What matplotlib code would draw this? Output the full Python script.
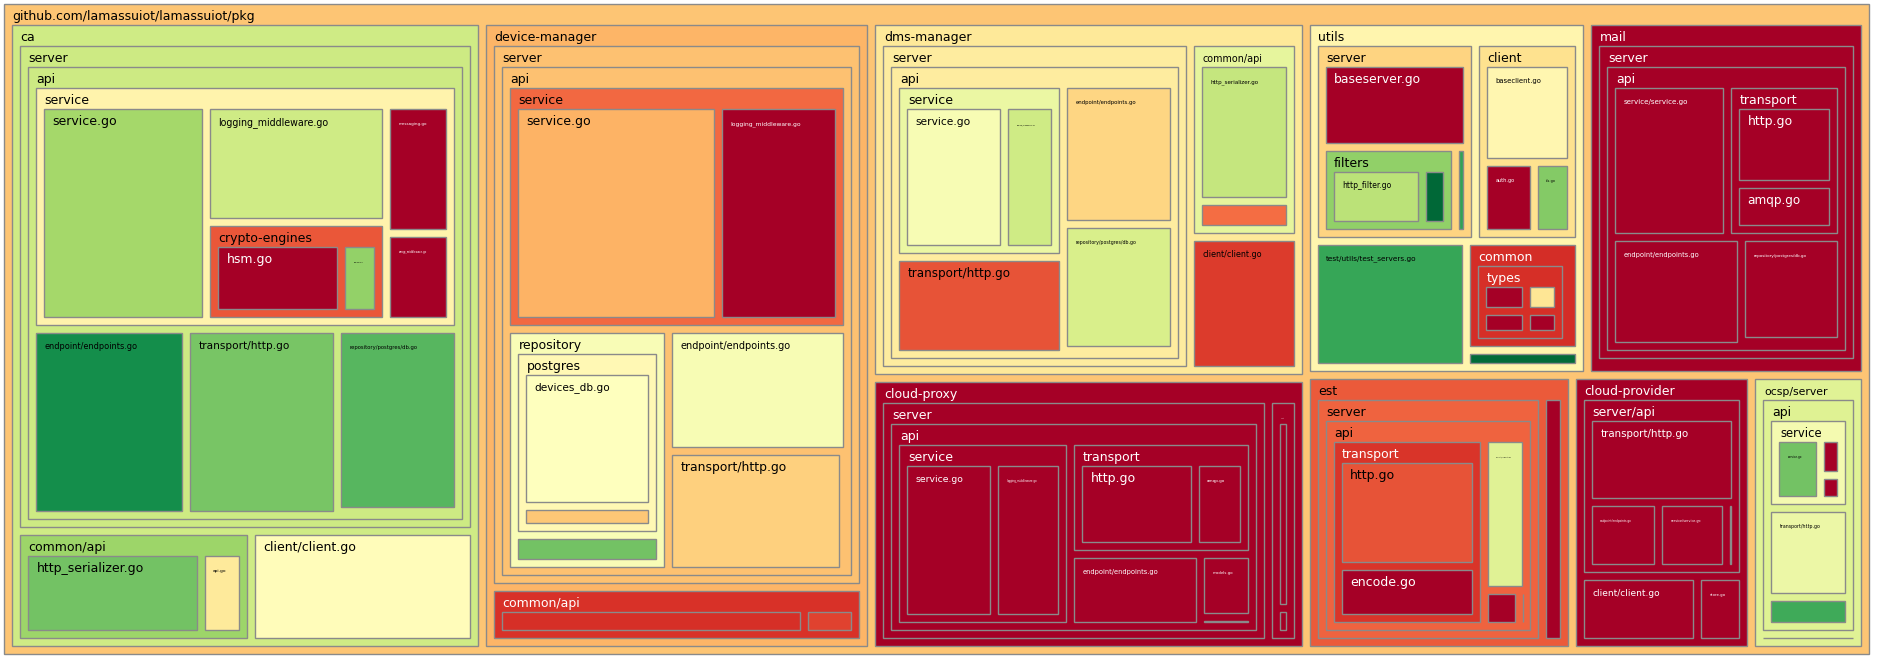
import matplotlib
matplotlib.use("Agg")
import matplotlib.pyplot as plt
from matplotlib.patches import Rectangle
from matplotlib.textpath import TextPath
from matplotlib.font_manager import FontProperties

root_name = "github.com/lamassuiot/lamassuiot/pkg"

# go files below pkg: levels split by "|", number of statements, coverage (0..1)
files = [
    # ca
    "ca|server|api|service|service.go",
    "ca|server|api|service|logging_middleware.go",
    "ca|server|api|service|crypto-engines|hsm.go",
    "ca|server|api|service|crypto-engines|gopem.go",
    "ca|server|api|service|messaging.go",
    "ca|server|api|service|amqp_middleware.go",
    "ca|server|api|endpoint/endpoints.go",
    "ca|server|api|transport/http.go",
    "ca|server|api|repository/postgres/db.go",
    "ca|server|api|errors.go",
    "ca|common/api|http_serializer.go",
    "ca|common/api|api.go",
    "ca|client/client.go",
    # device-manager
    "device-manager|server|api|service|service.go",
    "device-manager|server|api|service|logging_middleware.go",
    "device-manager|server|api|repository|postgres|devices_db.go",
    "device-manager|server|api|repository|postgres|logs_db.go",
    "device-manager|server|api|repository|interfaces.go",
    "device-manager|server|api|endpoint/endpoints.go",
    "device-manager|server|api|transport/http.go",
    "device-manager|server|api|errors.go",
    "device-manager|common/api|http_serializer.go",
    "device-manager|common/api|api.go",
    # dms-manager
    "dms-manager|server|api|service|service.go",
    "dms-manager|server|api|service|logging_middleware.go",
    "dms-manager|server|api|transport/http.go",
    "dms-manager|server|api|endpoint/endpoints.go",
    "dms-manager|server|api|repository/postgres/db.go",
    "dms-manager|server|api|errors.go",
    "dms-manager|common/api|http_serializer.go",
    "dms-manager|common/api|api.go",
    "dms-manager|client/client.go",
    # cloud-proxy
    "cloud-proxy|server|api|service|service.go",
    "cloud-proxy|server|api|service|logging_middleware.go",
    "cloud-proxy|server|api|transport|http.go",
    "cloud-proxy|server|api|transport|amqp.go",
    "cloud-proxy|server|api|endpoint/endpoints.go",
    "cloud-proxy|server|api|models.go",
    "cloud-proxy|server|api|errors.go",
    "cloud-proxy|client|client.go",
    "cloud-proxy|client|utils.go",
    # utils
    "utils|server|baseserver.go",
    "utils|server|filters|http_filter.go",
    "utils|server|filters|filter.go",
    "utils|server|utils.go",
    "utils|client|baseclient.go",
    "utils|client|auth.go",
    "utils|client|tls.go",
    "utils|test/utils/test_servers.go",
    "utils|common|types|certificate.go",
    "utils|common|types|status.go",
    "utils|common|types|key.go",
    "utils|common|types|types.go",
    "utils|common|errors.go",
    "utils|ocsp.go",
    # mail
    "mail|server|api|service/service.go",
    "mail|server|api|transport|http.go",
    "mail|server|api|transport|amqp.go",
    "mail|server|api|endpoint/endpoints.go",
    "mail|server|api|repository/postgres/db.go",
    "mail|server|api|errors.go",
    "mail|config.go",
    # est
    "est|server|api|transport|http.go",
    "est|server|api|transport|encode.go",
    "est|server|api|endpoint/endpoints.go",
    "est|server|api|service/service.go",
    "est|server|api|errors.go",
    "est|client/client.go",
    # cloud-provider
    "cloud-provider|server/api|transport/http.go",
    "cloud-provider|server/api|endpoint/endpoints.go",
    "cloud-provider|server/api|service/service.go",
    "cloud-provider|server/api|errors.go",
    "cloud-provider|client/client.go",
    "cloud-provider|store.go",
    # ocsp/server
    "ocsp/server|api|service|service.go",
    "ocsp/server|api|service|logging.go",
    "ocsp/server|api|service|utils.go",
    "ocsp/server|api|transport/http.go",
    "ocsp/server|api|endpoint/endpoints.go",
    "ocsp/server|errors.go",
]

statements = [
    224, 132, 86, 25, 51, 35, 152, 149, 116, 3, 91, 22, 107,
    280, 167, 158, 25, 27, 118, 112, 3, 77, 13,
    118, 60, 100, 95, 85, 3, 79, 16, 65,
    123, 92, 96, 41, 62, 22, 3, 29, 4,
    73, 54, 15, 6, 56, 23, 17, 89, 17, 14, 13, 10, 3, 9,
    114, 71, 41, 91, 67, 3, 6,
    142, 68, 47, 9, 2, 25,
    82, 30, 29, 4, 38, 15,
    36, 10, 7, 51, 17, 4,
]

coverage = [
    0.70, 0.62, 0.0, 0.73, 0.0, 0.0, 0.92, 0.77, 0.82, 0.5, 0.78, 0.43, 0.49,
    0.31, 0.0, 0.50, 0.35, 0.78, 0.52, 0.37, 0.5, 0.10, 0.13,
    0.52, 0.62, 0.16, 0.38, 0.60, 0.5, 0.64, 0.20, 0.12,
    0.0, 0.0, 0.0, 0.0, 0.0, 0.0, 0.0, 0.0, 0.0,
    0.0, 0.66, 1.0, 0.87, 0.47, 0.0, 0.75, 0.86, 0.0, 0.0, 0.42, 0.0, 0.0, 0.99,
    0.0, 0.0, 0.0, 0.0, 0.0, 0.0, 0.0,
    0.16, 0.0, 0.58, 0.0, 0.0, 0.0,
    0.0, 0.0, 0.0, 0.0, 0.0, 0.0,
    0.78, 0.0, 0.0, 0.55, 0.85, 0.5,
]

DPI = 100
PAD = 4        # px between a box and the edge of its cell
HEAD = 17      # px header strip of a directory box
MAX_EM = 12.5  # px
cmap = plt.get_cmap("RdYlGn")
font = FontProperties(family="DejaVu Sans")


def new_node(name):
    return {"name": name, "kids": {}, "size": 0.0, "hit": 0.0}


tree = new_node(root_name)
for path, n, cov in zip(files, statements, coverage):
    node = tree
    node["size"] += n
    node["hit"] += n * cov
    for part in path.split("|"):
        node = node["kids"].setdefault(part, new_node(part))
        node["size"] += n
        node["hit"] += n * cov


# squarified layout
def lay(areas, x, y, dx, dy):
    s = sum(areas)
    out = []
    if dx > dy:
        w = s / dy
        for a in areas:
            out.append((x, y, w, a / w))
            y += a / w
    else:
        h = s / dx
        for a in areas:
            out.append((x, y, a / h, h))
            x += a / h
    return out


def worst(areas, dx, dy):
    return max(max(w / h, h / w) for _, _, w, h in lay(areas, 0, 0, dx, dy))


def leftover(areas, x, y, dx, dy):
    s = sum(areas)
    if dx > dy:
        w = s / dy
        return x + w, y, dx - w, dy
    h = s / dx
    return x, y + h, dx, dy - h


def squarify(areas, x, y, dx, dy):
    if not areas:
        return []
    if len(areas) == 1:
        return lay(areas, x, y, dx, dy)
    i = 1
    while i < len(areas) and worst(areas[:i], dx, dy) >= worst(areas[:i + 1], dx, dy):
        i += 1
    return lay(areas[:i], x, y, dx, dy) + squarify(areas[i:], *leftover(areas[:i], x, y, dx, dy))


def text_em(s):
    return TextPath((0, 0), s, size=1, prop=font).get_extents().width


fig = plt.figure(figsize=(18.8, 6.61), dpi=DPI)
ax = fig.add_axes([0, 0, 1, 1])
ax.set_xlim(0, 1880)
ax.set_ylim(661, 0)
ax.axis("off")


def draw(node, x, y, w, h):
    cov = node["hit"] / node["size"]
    ax.add_patch(Rectangle((x, y), w, h, facecolor=cmap(cov),
                           edgecolor="#8a8a8a", linewidth=1.0))
    kids = sorted(node["kids"].values(), key=lambda k: -k["size"])
    room = 0.7 * (w - 16)
    if room > 0 and (kids or (w >= 25 and h >= 30)):
        em = min(MAX_EM, room / text_em(node["name"]))
        ax.text(x + 8.5, y + 16, node["name"], fontsize=em * 72 / DPI,
                family="DejaVu Sans", va="baseline", ha="left",
                color="white" if cov < 0.115 else "black")
    if not kids:
        return
    ix, iy, iw, ih = x + PAD, y + HEAD, w - 2 * PAD, h - HEAD - PAD
    if iw <= 0 or ih <= 0:
        return
    areas = [k["size"] / node["size"] * iw * ih for k in kids]
    for k, (cx, cy, cw, ch) in zip(kids, squarify(areas, ix, iy, iw, ih)):
        rw, rh = cw - 2 * PAD, ch - 2 * PAD
        if rw > -0.5 and rh > -0.5:
            draw(k, cx + PAD, cy + PAD, max(rw, 0), max(rh, 0))


draw(tree, 4, 4, 1865, 650)

fig.savefig("out.png", dpi=DPI, facecolor="white")
